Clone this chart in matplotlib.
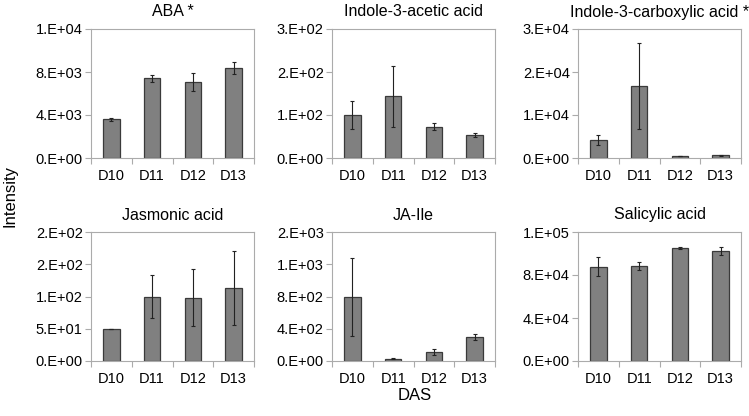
import numpy as np
import matplotlib
matplotlib.use("Agg")
import matplotlib.pyplot as plt
from matplotlib.ticker import FuncFormatter, FixedLocator

plt.rcParams['font.family'] = ['Liberation Sans', 'DejaVu Sans']

days = ['D10', 'D11', 'D12', 'D13']

titles = ['ABA *', 'Indole-3-acetic acid', 'Indole-3-carboxylic acid *',
          'Jasmonic acid', 'JA-Ile', 'Salicylic acid']

aba_mean = [3590, 7420, 7050, 8360]
aba_err = [170, 340, 820, 590]
iaa_mean = [100, 144, 73, 54]
iaa_err = [33, 71, 8.5, 4]
icaa_mean = [4200, 16700, 400, 650]
icaa_err = [1080, 10000, 50, 110]
ja_mean = [50, 100, 98, 113]
ja_err = [0, 34, 44, 57]
jaile_mean = [790, 28, 115, 300]
jaile_err = [482, 4, 37, 41]
sa_mean = [87700, 88400, 105100, 102600]
sa_err = [8800, 3700, 500, 3600]

means = [aba_mean, iaa_mean, icaa_mean, ja_mean, jaile_mean, sa_mean]
errs = [aba_err, iaa_err, icaa_err, ja_err, jaile_err, sa_err]
# axis max and major step per panel
y_max = [12000, 300, 30000, 200, 1600, 120000]
y_step = [4000, 100, 10000, 50, 400, 40000]

W, H = 749, 416
fig = plt.figure(figsize=(W / 100, H / 100), dpi=100)

lefts = [91, 332, 578]
tops = [29, 232]
aw, ah = 163, 129

frame_col = '#ababab'


def excel_fmt(v, pos):
    # Excel style "0.E+00"
    return f"{v:#.0E}"


for i in range(6):
    r, c = divmod(i, 3)
    ax = fig.add_axes([lefts[c] / W, 1 - (tops[r] + ah) / H, aw / W, ah / H])
    x = np.arange(len(days))
    ax.bar(x, means[i], width=0.41, color='#808080', edgecolor='#3a3a3a',
           linewidth=0.9, zorder=2)
    ax.errorbar(x, means[i], yerr=errs[i], fmt='none', ecolor='#222222',
                elinewidth=0.8, capsize=1.6, capthick=0.8, zorder=3)
    ax.set_xlim(-0.5, 3.5)
    ax.set_ylim(0, y_max[i])
    ax.set_yticks(np.arange(0, y_max[i] + 1, y_step[i]))
    ax.yaxis.set_major_formatter(FuncFormatter(excel_fmt))
    ax.set_xticks(x)
    ax.set_xticklabels(days)
    ax.xaxis.set_minor_locator(FixedLocator([-0.5, 0.5, 1.5, 2.5, 3.5]))
    ax.tick_params(axis='x', which='major', length=0, pad=8, labelsize=10.5)
    ax.tick_params(axis='x', which='minor', length=4, color=frame_col, width=0.8)
    ax.tick_params(axis='y', length=4, pad=2, color=frame_col, width=0.8,
                   labelsize=10.5)
    for sp in ax.spines.values():
        sp.set_color(frame_col)
        sp.set_linewidth(0.8)
    ax.set_title(titles[i], fontsize=11.5, pad=9)

fig.text(10 / W, 1 - 196 / H, 'Intensity', rotation=90, ha='center',
         va='center', fontsize=12)
fig.text(415 / W, 1 - 396 / H, 'DAS', ha='center', va='center', fontsize=12)

fig.savefig('out.png', dpi=100)
